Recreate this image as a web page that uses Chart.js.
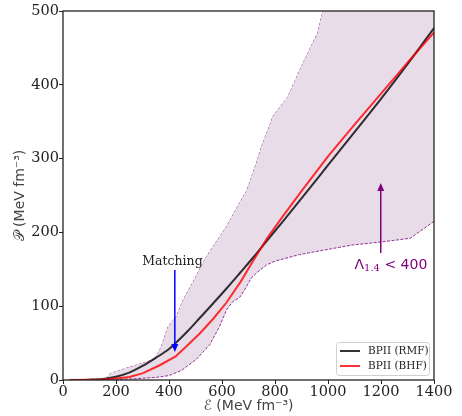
<!DOCTYPE html>
<html>
<head>
<meta charset="utf-8">
<script src="https://cdn.jsdelivr.net/npm/chart.js@4.4.1/dist/chart.umd.min.js"></script>
<style>
html, body { margin: 0; padding: 0; background: #fff; }
</style>
</head>
<body>
<canvas id="eos" width="462" height="416"></canvas>
<script>
// BPII (RMF)
const rmfE = [25, 100, 150, 200, 250, 300, 350, 400, 425, 470, 516, 567, 617, 670, 720, 770, 830, 900, 1000, 1100, 1200, 1300, 1400];
const rmfP = [0, 0.5, 1.5, 4.5, 10, 19, 30, 42, 50, 66, 84, 104, 124, 146, 167, 189, 215, 246, 291, 336, 381, 428, 477];
// BPII (BHF)
const bhfE = [25, 100, 150, 200, 250, 300, 365, 425, 470, 516, 567, 617, 670, 720, 770, 830, 900, 1000, 1100, 1200, 1300, 1400];
const bhfP = [0, 0.3, 0.8, 2, 4, 9, 20, 32, 47, 63, 83, 105, 133, 163, 192, 222, 256, 303, 346, 388, 430, 471];
// Lambda_1.4 < 400 band
const upperE = [165, 176, 189, 239, 302, 346, 371, 396, 428, 453, 497, 541, 617, 679, 694, 730, 749, 774, 792, 849, 900, 961, 981, 1000, 1400];
const upperP = [2, 8, 10, 16, 23, 28, 45, 72, 86, 108, 137, 167, 208, 248, 257, 294, 316, 339, 357, 384, 425, 470, 500, 528, 528];
const lowerE = [165, 200, 264, 350, 400, 447, 503, 554, 590, 617, 640, 667, 690, 710, 730, 768, 800, 893, 1000, 1094, 1200, 1310, 1400];
const lowerP = [0, 0.5, 1.5, 3.5, 6, 13, 28, 48, 72, 95, 106, 112, 125, 138, 145, 156, 161, 170, 177, 183, 187, 192, 215];

const xTicks = [0, 200, 400, 600, 800, 1000, 1200, 1400];
const yTicks = [0, 100, 200, 300, 400, 500];

// annotations in data units
const matchArrow = { x: 422, from: 149, to: 38 };
const matchText = { x: 413, y: 160, text: 'Matching' };
const lambdaArrow = { x: 1199, from: 172, to: 267 };
const lambdaText = { x: 1100, y: 156 };

const pts = (xs, ys) => xs.map((x, i) => ({ x: x, y: ys[i] }));

function arrow(ctx, px, y0, y1, color) {
  const head = 8, half = 3.5;
  const dir = y1 > y0 ? 1 : -1;
  ctx.strokeStyle = color;
  ctx.fillStyle = color;
  ctx.lineWidth = 1.5;
  ctx.beginPath();
  ctx.moveTo(px, y0);
  ctx.lineTo(px, y1 - dir * head);
  ctx.stroke();
  ctx.beginPath();
  ctx.moveTo(px, y1);
  ctx.lineTo(px - half, y1 - dir * head);
  ctx.lineTo(px + half, y1 - dir * head);
  ctx.closePath();
  ctx.fill();
}

const extras = {
  id: 'extras',
  afterDatasetsDraw(chart) {
    const { ctx, chartArea: a, scales: { x, y } } = chart;
    ctx.save();

    arrow(ctx, x.getPixelForValue(matchArrow.x), y.getPixelForValue(matchArrow.from), y.getPixelForValue(matchArrow.to), '#0000ff');
    ctx.font = '12.5px "DejaVu Serif"';
    ctx.fillStyle = '#222';
    ctx.textAlign = 'center';
    ctx.textBaseline = 'middle';
    ctx.fillText(matchText.text, x.getPixelForValue(matchText.x), y.getPixelForValue(matchText.y));

    arrow(ctx, x.getPixelForValue(lambdaArrow.x), y.getPixelForValue(lambdaArrow.from), y.getPixelForValue(lambdaArrow.to), '#800080');
    let lx = x.getPixelForValue(lambdaText.x);
    const ly = y.getPixelForValue(lambdaText.y);
    ctx.fillStyle = '#800080';
    ctx.textAlign = 'left';
    ctx.font = '14px "DejaVu Sans"';
    ctx.fillText('Λ', lx, ly);
    lx += ctx.measureText('Λ').width;
    ctx.font = '10px "DejaVu Serif"';
    ctx.fillText('1.4', lx, ly + 4);
    lx += ctx.measureText('1.4').width;
    ctx.font = '14px "DejaVu Sans"';
    ctx.fillText(' < 400', lx, ly);

    // legend
    const lg = { l: 336, t: 342, w: 93, h: 33 };
    ctx.fillStyle = 'rgba(255,255,255,0.85)';
    ctx.strokeStyle = '#d0d0d0';
    ctx.lineWidth = 1;
    ctx.beginPath();
    ctx.roundRect(lg.l + 0.5, lg.t + 0.5, lg.w, lg.h, 3);
    ctx.fill();
    ctx.stroke();
    const items = chart.data.datasets.filter(d => d.legendIndex !== undefined)
      .sort((p, q) => p.legendIndex - q.legendIndex);
    ctx.font = '10.5px "DejaVu Serif"';
    ctx.textAlign = 'left';
    items.forEach((d, i) => {
      const cy = lg.t + 9 + i * 15;
      ctx.strokeStyle = d.borderColor;
      ctx.lineWidth = 2;
      ctx.beginPath();
      ctx.moveTo(lg.l + 4, cy);
      ctx.lineTo(lg.l + 24, cy);
      ctx.stroke();
      ctx.fillStyle = '#222';
      ctx.fillText(d.label, lg.l + 32, cy);
    });

    // frame
    ctx.strokeStyle = '#222';
    ctx.lineWidth = 1.3;
    ctx.strokeRect(a.left, a.top, a.right - a.left, a.bottom - a.top);
    ctx.restore();
  }
};

const tickFont = { family: 'DejaVu Serif', size: 14.5 };
const titleFont = { family: 'DejaVu Sans', size: 14 };

new Chart(document.getElementById('eos').getContext('2d'), {
  type: 'line',
  data: {
    datasets: [
      {
        label: 'BPII (BHF)', legendIndex: 1, order: 0,
        data: pts(bhfE, bhfP),
        borderColor: 'rgba(255,0,0,0.8)', borderWidth: 2,
        pointRadius: 0, fill: false
      },
      {
        label: 'BPII (RMF)', legendIndex: 0, order: 1,
        data: pts(rmfE, rmfP),
        borderColor: 'rgba(0,0,0,0.8)', borderWidth: 2,
        cubicInterpolationMode: 'monotone',
        pointRadius: 0, fill: false
      },
      {
        label: 'upper', order: 3,
        data: pts(upperE, upperP),
        borderColor: 'rgba(128,0,128,0.8)', borderWidth: 1, borderDash: [3, 1.5],
        pointRadius: 0, fill: false
      },
      {
        label: 'lower', order: 2,
        data: pts(lowerE, lowerP),
        borderColor: 'rgba(128,0,128,0.8)', borderWidth: 1, borderDash: [3, 1.5],
        backgroundColor: 'rgb(232,220,233)',
        pointRadius: 0, fill: 2
      }
    ]
  },
  options: {
    responsive: false,
    animation: false,
    layout: { padding: { left: 0, right: 28, top: 11, bottom: 0 } },
    plugins: { legend: { display: false }, tooltip: { enabled: false } },
    scales: {
      x: {
        type: 'linear', min: 0, max: 1400,
        afterBuildTicks: s => { s.ticks = xTicks.map(v => ({ value: v })); },
        afterFit: s => { s.height = 36; s.paddingLeft = 0; s.paddingRight = 0; },
        border: { display: false },
        grid: { drawOnChartArea: false, drawTicks: true, tickLength: 4, color: '#222' },
        ticks: { padding: 0, color: '#222', font: tickFont, maxRotation: 0, callback: v => String(v) },
        title: { display: true, text: 'ℰ (MeV fm⁻³)', color: '#444', font: titleFont, padding: { top: 0, bottom: 1 } }
      },
      y: {
        type: 'linear', min: 0, max: 500,
        afterBuildTicks: s => { s.ticks = yTicks.map(v => ({ value: v })); },
        afterFit: s => { s.width = 63; s.paddingTop = 0; s.paddingBottom = 0; },
        border: { display: false },
        grid: { drawOnChartArea: false, drawTicks: true, tickLength: 4, color: '#222' },
        ticks: { padding: 0, color: '#222', font: tickFont, callback: v => String(v) },
        title: { display: true, text: '𝒫 (MeV fm⁻³)', color: '#444', font: titleFont, padding: { top: 11.5, bottom: 0 } }
      }
    }
  },
  plugins: [extras]
});
</script>
</body>
</html>
